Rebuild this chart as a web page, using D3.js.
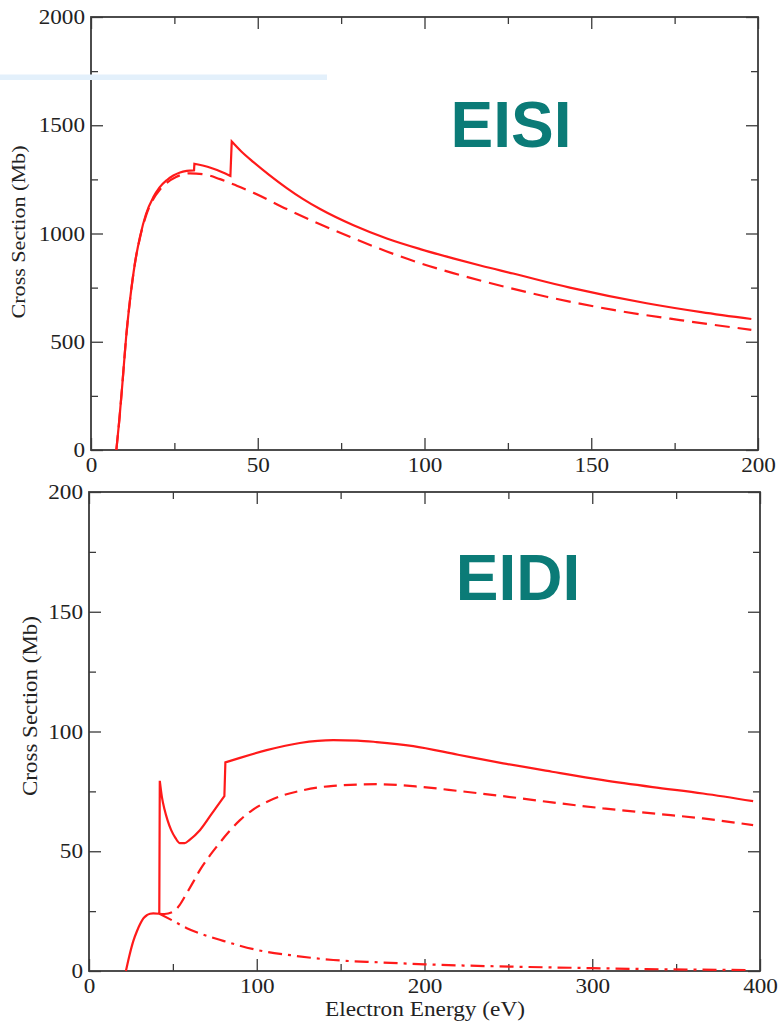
<!DOCTYPE html>
<html>
<head>
<meta charset="utf-8">
<script src="https://cdn.jsdelivr.net/npm/d3@7"></script>
<style>
  html, body { margin: 0; padding: 0; background: #fff; }
  svg { display: block; }
  .tick text { font-family: "Liberation Serif", "Times New Roman", serif; fill: #222; }
</style>
</head>
<body>
<svg id="chart" width="779" height="1024"></svg>
<script>
// ---------------- DATA ----------------
// EISI panel (x: electron energy eV, y: cross section Mb)
const eisiXTicks = [0, 50, 100, 150, 200];
const eisiXMinor = [25, 75, 125, 175];
const eisiYTicks = [0, 500, 1000, 1500, 2000];
const eisiYMinor = [250, 750, 1250, 1750];

const eisiSolidSeg1 = [[7.6,0],[8.5,140],[9.5,323],[10.5,515],[11.7,693],[13.2,865],[14.7,985],[16.5,1090],[18.7,1168],[20.5,1212],[22.7,1246],[24.7,1268],[26.7,1282],[28.7,1289],[30.9,1292]];
const eisiSolidSeg2 = [[31.0,1322],[33.5,1314],[36.5,1300],[39.2,1284],[41.8,1266]];
const eisiSolidSeg3 = [[42.2,1425],[45,1380],[48.7,1330],[53.5,1270],[58.7,1210],[63.5,1160],[68.7,1113],[78.7,1038],[88.7,977],[98.7,928],[108.6,885],[117,851],[126.6,815],[143.6,750],[166.6,678],[183,637],[198,605]];

const eisiDashed = [[7.6,0],[8.5,140],[9.5,323],[10.5,515],[11.7,693],[13.2,865],[14.7,982],[16.5,1083],[18.7,1160],[20.5,1200],[22.7,1234],[25.5,1261],[29.7,1278],[33.7,1274],[38.7,1251],[43.7,1221],[48.7,1188],[58.7,1113],[68.7,1043],[78.7,978],[88.7,917],[98.7,863],[108.6,817],[118,778],[136.6,708],[156.6,647],[176.6,600],[198,555]];

// EIDI panel
const eidiXTicks = [0, 100, 200, 300, 400];
const eidiXMinor = [50, 150, 250, 350];
const eidiYTicks = [0, 50, 100, 150, 200];
const eidiYMinor = [25, 75, 125, 175];

const eidiSolidSeg1 = [[22,0],[24,6.2],[26.4,12.5],[28.5,16.5],[30.4,19.5],[32.4,22],[34.5,23.3],[36.4,23.9],[38.3,24.1],[41.9,23.9]];
const eidiSolidSeg2 = [[42.2,79.4],[43.5,72.5],[45,67.5],[46.8,63],[49,58.8],[51.5,55.6],[54.2,53.4],[57,53.4],[60,54.8],[66.1,58.8],[73,65.5],[80.7,73]];
const eidiSolidSeg3 = [[81.3,87.1],[90,89],[105.9,92.2],[125.7,95.2],[145.6,96.4],[160,96.2],[171.4,95.6],[193.3,93.9],[220,90.3],[246.9,86.7],[276,83.2],[306.5,79.7],[336,76.8],[366,74.1],[395.9,70.9]];

const eidiDashed = [[41.9,23.9],[45,23.8],[50.3,24.8],[54,27.5],[58.2,32.4],[62,37],[66.1,42.1],[71,47.2],[76.1,51.9],[83,57.8],[90,63],[97,67],[105.9,70.6],[115,73.2],[125.7,75.2],[145.6,77.3],[171.4,78],[197.3,76.9],[220,75.2],[246.9,73],[276,70.4],[306.5,67.9],[336,65.8],[366,63.7],[395.9,60.9]];

const eidiDashDot = [[41.9,23.9],[50,21],[58,18],[66.1,15.7],[80,12.6],[100,8.8],[120,6.6],[145.6,4.6],[173.4,3.6],[200,2.8],[252.9,1.8],[300,1.2],[332.4,0.8],[394,0.4]];

const yAxisLabel = "Cross Section (Mb)";
const xAxisLabel = "Electron Energy (eV)";
const titles = ["EISI", "EIDI"];

// ---------------- DRAWING ----------------
const svg = d3.select("#chart");
const RED = "#ff1a1a";
const AXIS = "#3a3a3a";
const TEAL = "#0b7b77";

function stretchText(sel, factor) {
  sel.each(function () {
    const len = this.getComputedTextLength();
    d3.select(this).attr("textLength", len * factor).attr("lengthAdjust", "spacingAndGlyphs");
  });
}

function drawPanel(cfg) {
  const x = d3.scaleLinear().domain(cfg.xDomain).range([cfg.left, cfg.right]);
  const y = d3.scaleLinear().domain(cfg.yDomain).range([cfg.bottom, cfg.top]);
  const g = svg.append("g");

  const fs = 20.5;
  const major = 12, minor = 7;

  const bx = g.append("g").attr("transform", `translate(0,${cfg.bottom})`)
    .call(d3.axisBottom(x).tickValues(cfg.xTicks).tickSizeInner(-major).tickSizeOuter(0).tickPadding(5 + major).tickFormat(d3.format("d")));
  bx.selectAll("text").attr("font-size", fs).attr("y", 7).attr("dy", "0.71em");
  g.append("g").attr("transform", `translate(0,${cfg.bottom})`)
    .call(d3.axisBottom(x).tickValues(cfg.xMinor).tickSizeInner(-minor).tickSizeOuter(0).tickFormat(""));
  g.append("g").attr("transform", `translate(0,${cfg.top})`)
    .call(d3.axisTop(x).tickValues(cfg.xTicks).tickSizeInner(-major).tickSizeOuter(0).tickFormat(""));
  g.append("g").attr("transform", `translate(0,${cfg.top})`)
    .call(d3.axisTop(x).tickValues(cfg.xMinor).tickSizeInner(-minor).tickSizeOuter(0).tickFormat(""));
  const ly = g.append("g").attr("transform", `translate(${cfg.left},0)`)
    .call(d3.axisLeft(y).tickValues(cfg.yTicks).tickSizeInner(-major).tickSizeOuter(0).tickFormat(d3.format("d")));
  ly.selectAll("text").attr("font-size", fs).attr("x", -6);
  g.append("g").attr("transform", `translate(${cfg.left},0)`)
    .call(d3.axisLeft(y).tickValues(cfg.yMinor).tickSizeInner(-minor).tickSizeOuter(0).tickFormat(""));
  g.append("g").attr("transform", `translate(${cfg.right},0)`)
    .call(d3.axisRight(y).tickValues(cfg.yTicks).tickSizeInner(-major).tickSizeOuter(0).tickFormat(""));
  g.append("g").attr("transform", `translate(${cfg.right},0)`)
    .call(d3.axisRight(y).tickValues(cfg.yMinor).tickSizeInner(-minor).tickSizeOuter(0).tickFormat(""));

  g.selectAll(".domain").remove();
  g.selectAll(".tick line").attr("stroke", AXIS).attr("stroke-width", 1.3);
  stretchText(g.selectAll(".tick text"), 1.13);

  g.append("rect").attr("x", cfg.left).attr("y", cfg.top)
    .attr("width", cfg.right - cfg.left).attr("height", cfg.bottom - cfg.top)
    .attr("fill", "none").attr("stroke", AXIS).attr("stroke-width", 1.8);

  const line = d3.line().x(d => x(d[0])).y(d => y(d[1])).curve(d3.curveMonotoneX);
  const joined = segs => segs.map((s, i) => { const p = line(s); return i === 0 ? p : "L" + p.slice(1); }).join("");

  cfg.series.forEach(s => {
    g.append("path")
      .attr("d", joined(s.segs))
      .attr("fill", "none")
      .attr("stroke", RED)
      .attr("stroke-width", 2.2)
      .attr("stroke-linejoin", "miter")
      .attr("stroke-dasharray", s.dash || null);
  });

  g.append("text")
    .attr("transform", `translate(${cfg.yLabelX},${cfg.yLabelY}) rotate(-90)`)
    .attr("text-anchor", "middle")
    .attr("font-family", "'Liberation Serif', 'Times New Roman', serif")
    .attr("font-size", cfg.yLabelSize)
    .attr("fill", "#222")
    .attr("textLength", cfg.yLabelLen)
    .attr("lengthAdjust", "spacingAndGlyphs")
    .text(yAxisLabel);

  g.append("text")
    .attr("x", cfg.titleX).attr("y", cfg.titleY)
    .attr("text-anchor", "middle")
    .attr("font-family", "'Liberation Sans', Arial, sans-serif")
    .attr("font-weight", "bold")
    .attr("font-size", 64)
    .attr("fill", TEAL)
    .text(cfg.title);

  return { x, y, g };
}

drawPanel({
  xDomain: [0, 200], yDomain: [0, 2000],
  left: 91, right: 758, top: 17, bottom: 450,
  xTicks: eisiXTicks, xMinor: eisiXMinor, yTicks: eisiYTicks, yMinor: eisiYMinor,
  series: [
    { segs: [eisiSolidSeg1, eisiSolidSeg2, eisiSolidSeg3] },
    { segs: [eisiDashed], dash: "15,8" }
  ],
  yLabelX: 25, yLabelY: 232, yLabelSize: 19, yLabelLen: 173,
  title: titles[0], titleX: 511, titleY: 147
});

drawPanel({
  xDomain: [0, 400], yDomain: [0, 200],
  left: 89, right: 760, top: 492, bottom: 971,
  xTicks: eidiXTicks, xMinor: eidiXMinor, yTicks: eidiYTicks, yMinor: eidiYMinor,
  series: [
    { segs: [eidiSolidSeg1, eidiSolidSeg2, eidiSolidSeg3] },
    { segs: [eidiDashed], dash: "13,7" },
    { segs: [eidiDashDot], dash: "14,6,3,6" }
  ],
  yLabelX: 37, yLabelY: 706, yLabelSize: 21, yLabelLen: 180,
  title: titles[1], titleX: 518, titleY: 600
});

svg.append("text")
  .attr("x", 425).attr("y", 1016)
  .attr("text-anchor", "middle")
  .attr("font-family", "'Liberation Serif', 'Times New Roman', serif")
  .attr("font-size", 20.5)
  .attr("fill", "#222")
  .attr("textLength", 200)
  .attr("lengthAdjust", "spacingAndGlyphs")
  .text(xAxisLabel);

svg.append("rect")
  .attr("x", 0).attr("y", 74.5).attr("width", 327).attr("height", 5.5)
  .attr("fill", "#e3f0fb");
</script>
</body>
</html>
